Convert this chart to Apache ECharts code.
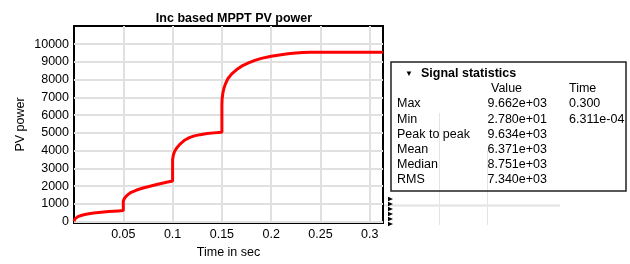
<!DOCTYPE html>
<html><head><meta charset="utf-8">
<script src="https://cdn.jsdelivr.net/npm/echarts@6/dist/echarts.min.js"></script>
<style>html,body{margin:0;padding:0;background:#fff}#c{width:630px;height:264px}</style>
</head><body><div id="c"></div>
<script>
const chartTitle = "Inc based MPPT PV power";
const xName = "Time in sec";
const yName = "PV power";
const timeSec = [0,0.001,0.002,0.004,0.006,0.008,0.011,0.015,0.02,0.025,0.03,0.035,0.04,0.045,0.05,
  0.05,0.051,0.0525,0.055,0.058,0.0635,0.07,0.077,0.085,0.0905,0.095,0.1,
  0.1,0.1008,0.102,0.104,0.106,0.109,0.1125,0.117,0.122,0.128,0.135,0.142,0.15,
  0.15,0.1502,0.151,0.152,0.1535,0.156,0.16,0.165,0.17,0.177,0.1834,0.19,0.2,0.21,0.217,0.225,0.232,0.24,0.25,0.3134];
const pvPower = [28,150,210,275,320,355,395,440,480,510,540,565,585,600,615,
  1150,1290,1410,1530,1650,1775,1890,1990,2100,2170,2225,2285,
  3500,3750,3950,4130,4270,4440,4600,4730,4830,4900,4960,5000,5040,
  6600,6900,7250,7500,7750,8050,8330,8570,8760,8950,9090,9200,9320,9410,9460,9510,9535,9545,9550,9550];
const xTicks = [0.05,0.1,0.15,0.2,0.25,0.3];
const xGrid = [0.05,0.1,0.15,0.2,0.25,0.3];
const yTicks = [0,1000,2000,3000,4000,5000,6000,7000,8000,9000,10000];
const statsTitle = "Signal statistics";
const statsHeader = ["", "Value", "Time"];
const statsLabels = ["Max","Min","Peak to peak","Mean","Median","RMS"];
const statsValues = ["9.662e+03","2.780e+01","9.634e+03","6.371e+03","8.751e+03","7.340e+03"];
const statsTimes = ["0.300","6.311e-04","","","",""];

const FONT = "Liberation Sans, Arial, sans-serif";
const chart = echarts.init(document.getElementById('c'), null, {renderer:'canvas'});

const g = [];
g.push({type:'line', shape:{x1:384,y1:205.5,x2:560,y2:205.5}, style:{stroke:'#e2e2e2',lineWidth:2}});
g.push({type:'line', shape:{x1:439.5,y1:113,x2:439.5,y2:225}, style:{stroke:'#e4e4e4',lineWidth:1}});
g.push({type:'line', shape:{x1:487.5,y1:150,x2:487.5,y2:225}, style:{stroke:'#e4e4e4',lineWidth:1}});
g.push({type:'rect', shape:{x:391,y:62,width:235,height:129}, style:{fill:'rgba(255,255,255,0)',stroke:'#222',lineWidth:1.5}});
g.push({type:'text', x:405, y:74, style:{text:'▼', font:'8px '+FONT, fill:'#000', verticalAlign:'middle'}});
g.push({type:'text', x:421, y:74, style:{text:statsTitle, font:'bold 12.5px '+FONT, fill:'#000', verticalAlign:'middle'}});
g.push({type:'text', x:491, y:89, style:{text:statsHeader[1], font:'12.5px '+FONT, fill:'#000', verticalAlign:'middle'}});
g.push({type:'text', x:569, y:89, style:{text:statsHeader[2], font:'12.5px '+FONT, fill:'#000', verticalAlign:'middle'}});
for (let i=0;i<statsLabels.length;i++){
  const y = 104 + i*15.2;
  g.push({type:'text', x:397, y:y, style:{text:statsLabels[i], font:'12.5px '+FONT, fill:'#000', verticalAlign:'middle'}});
  g.push({type:'text', x:487.5, y:y, style:{text:statsValues[i], font:'12.5px '+FONT, fill:'#000', verticalAlign:'middle'}});
  if (statsTimes[i]) g.push({type:'text', x:569, y:y, style:{text:statsTimes[i], font:'12.5px '+FONT, fill:'#000', verticalAlign:'middle'}});
}
[199,204,209,214,219,224].forEach(y=>{
  g.push({type:'polygon', shape:{points:[[388,y-2.2],[393,y],[388,y+2.2]]}, style:{fill:'#000'}});
});

const gridLineStyle = {color:'#e0e0e0', width:2, type:'solid'};
chart.setOption({
  animation:false,
  backgroundColor:'#fff',
  title:{text:chartTitle, left:229, top:7, textAlign:'center',
    textStyle:{fontFamily:FONT, fontSize:12.5, fontWeight:'bold', color:'#000'}},
  grid:{left:74, right:247, top:26, bottom:38, show:true, borderColor:'#000', borderWidth:2, backgroundColor:'transparent'},
  xAxis:{type:'value', min:0, max:0.3134,
    name:xName, nameLocation:'middle', nameGap:23,
    nameTextStyle:{fontFamily:FONT, fontSize:12.5, color:'#000'},
    axisLine:{show:true, onZero:false, lineStyle:{color:'#000', width:2}},
    axisTick:{show:false, customValues:xTicks},
    axisLabel:{customValues:xTicks, margin:5, fontFamily:FONT, fontSize:12.5, color:'#000',
      formatter:v=>String(Math.round(v*100)/100)},
    splitLine:{show:false}},
  yAxis:{type:'value', min:-83.333, max:11027.778,
    name:yName, nameLocation:'middle', nameGap:47,
    nameTextStyle:{fontFamily:FONT, fontSize:12.5, color:'#000'},
    axisLine:{show:true, onZero:false, lineStyle:{color:'#000', width:2}},
    axisTick:{show:false, customValues:yTicks},
    axisLabel:{customValues:yTicks, margin:5, fontFamily:FONT, fontSize:12.5, color:'#000',
      formatter:v=>String(v)},
    splitLine:{show:false}},
  series:[
    {type:'line', data:timeSec.map((t,i)=>[t,pvPower[i]]), showSymbol:false, symbol:'none',
      lineStyle:{color:'#ff0000', width:3}, clip:true, z:10,
      markLine:{silent:true, z:1, symbol:['none','none'], label:{show:false}, lineStyle:gridLineStyle, animation:false,
        emphasis:{disabled:true},
        data: yTicks.map(v=>({yAxis:v})).concat(xGrid.map(v=>({xAxis:v})))}}],
  graphic:g
});
</script></body></html>
